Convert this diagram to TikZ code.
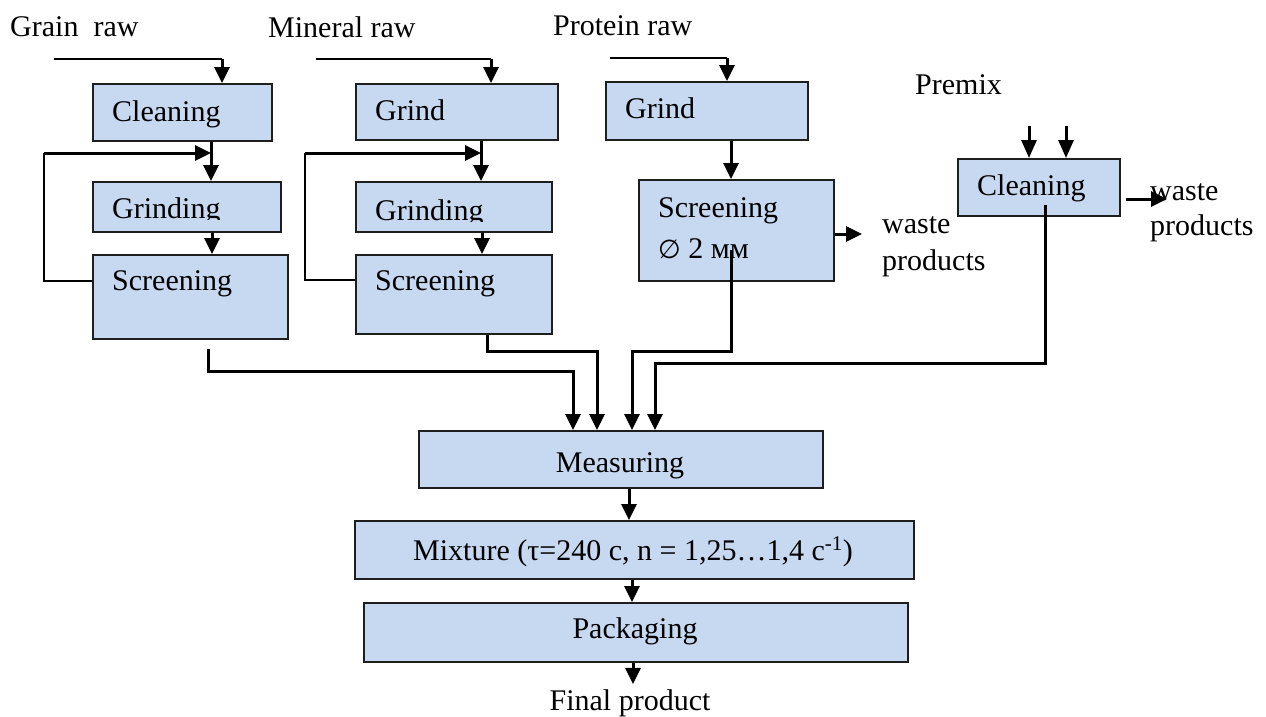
\documentclass[tikz,border=0pt]{standalone}
\usepackage{fontspec}
\setmainfont{Liberation Serif}
\newfontfamily\symfont{DejaVu Sans}
\usetikzlibrary{arrows.meta}
\definecolor{boxblue}{RGB}{198,217,241}
\definecolor{boxline}{RGB}{30,30,30}
\begin{document}
\begin{tikzpicture}[x=1pt,y=-1pt,
  box/.style={draw=boxline,line width=1.8pt,fill=boxblue,inner sep=0pt,anchor=north west},
  txt/.style={inner sep=0pt,font=\fontsize{30}{36}\selectfont},
  thinline/.style={line width=1.5pt},
  flow/.style={line width=3pt,-{Triangle[length=16pt,width=15pt]}},
]
\fill[white] (0,0) rectangle (1266,716);
\useasboundingbox (0,0) rectangle (1266,716);

% ---------- boxes ----------
\node[box,minimum width=179pt,minimum height=57pt] (gclean) at (92,83) {};
\node[box,minimum width=188pt,minimum height=50pt] (ggrind) at (92,181) {};
\node[box,minimum width=195pt,minimum height=84pt] (gscreen) at (92,254) {};
\node[box,minimum width=202pt,minimum height=56pt] (mgrind) at (355,83) {};
\node[box,minimum width=196pt,minimum height=50pt] (mgrinding) at (355,181) {};
\node[box,minimum width=196pt,minimum height=79pt] (mscreen) at (355,254) {};
\node[box,minimum width=202pt,minimum height=58pt] (pgrind) at (605,81) {};
\node[box,minimum width=195pt,minimum height=101pt] (pscreen) at (638,179) {};
\node[box,minimum width=162pt,minimum height=57pt] (xclean) at (957,158) {};
\node[box,minimum width=404pt,minimum height=57pt] (measure) at (418,430) {};
\node[box,minimum width=559pt,minimum height=58pt] (mixture) at (354,520) {};
\node[box,minimum width=544pt,minimum height=59pt] (pack) at (363,602) {};

% ---------- texts ----------
\node[txt,anchor=base west] (tgrain) at (10,36) {Grain\hspace{0.5em}raw};
\node[txt,anchor=base west] (tmineral) at (268,37) {Mineral raw};
\node[txt,anchor=base west] (tprotein) at (553,35) {Protein raw};
\node[txt,anchor=base west] (tpremix) at (915,94) {Premix};

\node[txt,anchor=base west] (gclean-t) at (112,121) {Cleaning};
\begin{scope}
  \clip (92,181) rectangle (280,219.5);
  \node[txt,anchor=base west] (ggrind-t) at (112,218) {Grinding};
\end{scope}
\node[txt,anchor=base west] (gscreen-t) at (112,290) {Screening};

\node[txt,anchor=base west] (mgrind-t) at (375,120) {Grind};
\begin{scope}
  \clip (355,181) rectangle (551,221.5);
  \node[txt,anchor=base west] (mgrinding-t) at (375,220) {Grinding};
\end{scope}
\node[txt,anchor=base west] (mscreen-t) at (375,290) {Screening};

\node[txt,anchor=base west] (pgrind-t) at (625,118) {Grind};
\node[txt,anchor=base west] (pscreen-t) at (658,217) {Screening};
\node[txt,anchor=base west] (pscreen-t2) at (658,258) {{\symfont\fontsize{26}{30}\selectfont ∅} 2 мм};
\node[txt,anchor=base west] (pwaste1) at (882,233) {waste};
\node[txt,anchor=base west] (pwaste2) at (882,270) {products};

\node[txt,anchor=base west] (xclean-t) at (977,195) {Cleaning};
\node[txt,anchor=base west] (xwaste1) at (1150,200) {waste};
\node[txt,anchor=base west] (xwaste2) at (1150,235) {products};

\node[txt,anchor=base] (measure-t) at (620,472) {Measuring};
\node[txt,anchor=base] (mixture-t) at (633,560) {Mixture (τ=240 c, n = 1,25…1,4 c\textsuperscript{-1})};
\node[txt,anchor=base] (pack-t) at (635,638) {Packaging};
\node[txt,anchor=base] (final) at (630,710) {Final product};

% ---------- helper coordinates ----------
\coordinate (gin) at (54,59);   \coordinate (gturn) at (222,59);
\coordinate (gx) at (211,0);    \coordinate (gx2) at (212,0);
\coordinate (gfbtop) at (44,153); \coordinate (gfbbot) at (44,281);
\coordinate (gout) at (208,349); \coordinate (gy) at (0,371);
\coordinate (min) at (316,59);  \coordinate (mturn) at (491,59);
\coordinate (mx) at (481,0);    \coordinate (mx2) at (482,0);
\coordinate (mfbtop) at (305,153); \coordinate (mfbbot) at (305,280);
\coordinate (mout) at (487,0);  \coordinate (my) at (0,351);
\coordinate (pin) at (610,58);  \coordinate (pturn) at (727,58);
\coordinate (px) at (731,0);    \coordinate (pw) at (862,234);
\coordinate (pout) at (731,250); \coordinate (py) at (0,351);
\coordinate (xa1) at (1029,126); \coordinate (xa2) at (1066,126);
\coordinate (xw) at (1167,199);
\coordinate (xout) at (1045,205); \coordinate (xy) at (0,363);
\coordinate (in1) at (573,0); \coordinate (in2) at (597,0);
\coordinate (in3) at (632,0); \coordinate (in4) at (655,0);
\coordinate (bx1) at (629,0); \coordinate (bx2) at (632,0); \coordinate (bx3) at (633,0);

% ---------- grain line ----------
\draw[thinline] (gin) -- (gturn);
\draw[flow] (gturn) -- (gturn |- gclean.north);
\draw[flow] (gclean.south -| gx) -- (ggrind.north -| gx);
\draw[thinline] (gscreen.west |- gfbbot) -- (gfbbot) -- (gfbtop);
\draw[flow] (gfbtop) -- (gfbtop -| gx);
\draw[flow] (ggrind.south -| gx2) -- (gscreen.north -| gx2);
\draw[flow] (gout) -- (gout |- gy) -| (measure.north -| in1);

% ---------- mineral line ----------
\draw[thinline] (min) -- (mturn);
\draw[flow] (mturn) -- (mturn |- mgrind.north);
\draw[flow] (mgrind.south -| mx) -- (mgrinding.north -| mx);
\draw[thinline] (mscreen.west |- mfbbot) -- (mfbbot) -- (mfbtop);
\draw[flow] (mfbtop) -- (mfbtop -| mx);
\draw[flow] (mgrinding.south -| mx2) -- (mscreen.north -| mx2);
\draw[flow] (mscreen.south -| mout) -- (mout |- my) -| (measure.north -| in2);

% ---------- protein line ----------
\draw[thinline] (pin) -- (pturn);
\draw[flow] (pturn) -- (pturn |- pgrind.north);
\draw[flow] (pgrind.south -| px) -- (pscreen.north -| px);
\draw[flow] (pscreen.east |- pw) -- (pw);
\draw[flow] (pout) -- (pout |- py) -| (measure.north -| in3);

% ---------- premix line ----------
\draw[line width=3pt,-{Triangle[length=18pt,width=15pt]}] (xa1) -- (xa1 |- xclean.north);
\draw[line width=3pt,-{Triangle[length=18pt,width=15pt]}] (xa2) -- (xa2 |- xclean.north);
\draw[flow,shorten <=5pt] (xclean.east |- xw) -- (xw);
\draw[flow] (xout) -- (xout |- xy) -| (measure.north -| in4);

% ---------- final steps ----------
\draw[flow] (measure.south -| bx1) -- (mixture.north -| bx1);
\draw[flow] (mixture.south -| bx2) -- (pack.north -| bx2);
\draw[flow,shorten >=5pt] (pack.south -| bx3) -- (final.north -| bx3);
\end{tikzpicture}
\end{document}
